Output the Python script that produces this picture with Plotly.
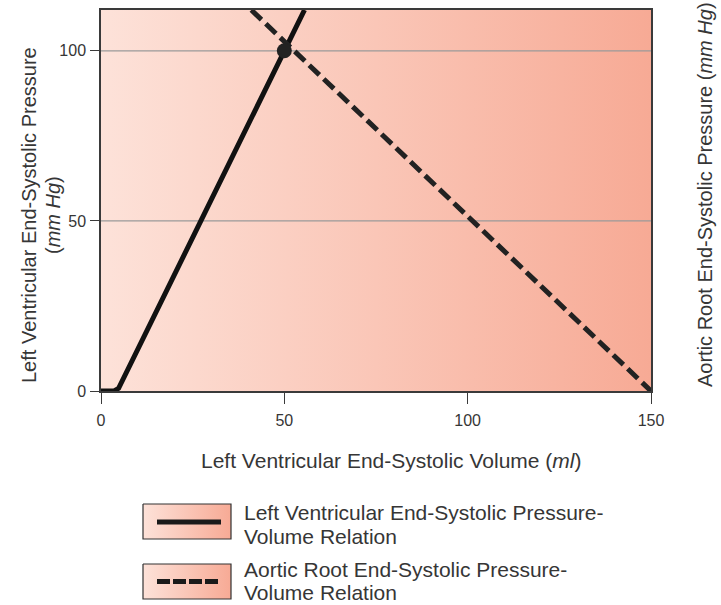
import plotly.graph_objects as go

# Left ventricular end-systolic pressure-volume relation (solid line)
lv_volume = [0, 3.6, 4.8, 55.5]
lv_pressure = [0, 0, 0.8, 112]

# Aortic root end-systolic pressure-volume relation (dashed line)
ao_volume = [41, 150]
ao_pressure = [112, 0]

# Operating point where the two relations intersect
eq_volume = [50]
eq_pressure = [100]

x_ticks = [0, 50, 100, 150]
x_inner_ticks = [50, 100]
y_ticks = [0, 50, 100]
grid_vals = [50, 100]
x_range = [0, 150]
y_range = [0, 112]

legend_lines = [
    ["Left Ventricular End-Systolic Pressure-", "Volume Relation"],
    ["Aortic Root End-Systolic Pressure-", "Volume Relation"],
]

W, H = 721, 605
FONT = "Liberation Sans, Arial, sans-serif"
TXT = "#363636"
AX = "#3a3a3a"
GRAD = [[0, "#fde2d9"], [1, "#f7aa95"]]

# plot area in pixels
PX0, PX1, PY0, PY1 = 101, 651, 10, 391

fig = go.Figure()

# gradient plot background
fig.add_trace(go.Scatter(
    x=[x_range[0], x_range[1], x_range[1], x_range[0], x_range[0]],
    y=[y_range[0], y_range[0], y_range[1], y_range[1], y_range[0]],
    mode="lines", fill="toself",
    fillgradient=dict(type="horizontal", colorscale=GRAD),
    line=dict(width=0), hoverinfo="skip", showlegend=False,
))

# horizontal grid lines
for g in grid_vals:
    fig.add_trace(go.Scatter(
        x=x_range, y=[g, g], mode="lines",
        line=dict(color="#9a9a9a", width=1.2),
        hoverinfo="skip", showlegend=False,
    ))

fig.add_trace(go.Scatter(
    x=lv_volume, y=lv_pressure, mode="lines",
    line=dict(color="#111111", width=5),
    showlegend=False,
))
fig.add_trace(go.Scatter(
    x=ao_volume, y=ao_pressure, mode="lines",
    line=dict(color="#222222", width=5, dash="14px,6px"),
    showlegend=False,
))
fig.add_trace(go.Scatter(
    x=eq_volume, y=eq_pressure, mode="markers",
    marker=dict(color="#222222", size=15, line=dict(width=0)),
    showlegend=False,
))

# legend swatches drawn on a full-page pixel axis pair
boxes = [(143, 231, 504, 539), (143, 231, 564, 599)]
swatch_y = [522, 581.5]
swatch_dash = ["solid", "13px,3px"]
# (pixel y, vertical anchor) for each text row
label_rows = [((512, "middle"), (536, "middle")),
              ((569, "middle"), (605, "bottom"))]
for (bx0, bx1, by0, by1), sy, dsh, rows, lines in zip(
        boxes, swatch_y, swatch_dash, label_rows, legend_lines):
    fig.add_trace(go.Scatter(
        x=[bx0, bx1, bx1, bx0, bx0], y=[by0, by0, by1, by1, by0],
        mode="lines", fill="toself",
        fillgradient=dict(type="horizontal", colorscale=GRAD),
        line=dict(color="#333333", width=1.2),
        xaxis="x3", yaxis="y3", hoverinfo="skip", showlegend=False,
    ))
    fig.add_trace(go.Scatter(
        x=[bx0 + 14, bx1 - 10], y=[sy, sy], mode="lines",
        line=dict(color="#1a1a1a", width=5, dash=dsh),
        xaxis="x3", yaxis="y3", hoverinfo="skip", showlegend=False,
    ))
    for (ry, anchor), txt in zip(rows, lines):
        fig.add_annotation(
            x=243 / W, y=1 - ry / H, xref="paper", yref="paper",
            text=txt, showarrow=False, xanchor="left", yanchor=anchor,
            borderpad=0, font=dict(family=FONT, size=21, color=TXT),
        )

xdom = [PX0 / W, PX1 / W]
ydom = [1 - PY1 / H, 1 - PY0 / H]
tickfont = dict(family=FONT, size=16, color=TXT)

fig.update_layout(
    width=W, height=H,
    margin=dict(l=0, r=0, t=0, b=0, autoexpand=False),
    paper_bgcolor="white", plot_bgcolor="rgba(0,0,0,0)",
    showlegend=False,
    xaxis=dict(
        domain=xdom, range=x_range, tickvals=x_ticks, ticks="outside", ticklen=11,
        tickwidth=1.3, tickcolor=AX, showline=True, linecolor=AX, linewidth=1.5,
        mirror=True, showgrid=False, zeroline=False, tickfont=tickfont, anchor="y",
        ticklabelstandoff=3, automargin=False,
    ),
    xaxis2=dict(
        overlaying="x", range=x_range, tickvals=x_inner_ticks, ticks="inside", ticklen=13,
        tickwidth=1.3, tickcolor=AX, showticklabels=False, showline=False,
        showgrid=False, zeroline=False, anchor="y", side="bottom", automargin=False,
    ),
    yaxis=dict(
        domain=ydom, range=y_range, tickvals=y_ticks, ticks="outside", ticklen=9,
        tickwidth=1.3, tickcolor=AX, showline=True, linecolor=AX, linewidth=1.5,
        mirror=True, showgrid=False, zeroline=False, tickfont=tickfont, anchor="x",
        ticklabelstandoff=1, automargin=False,
    ),
    yaxis2=dict(
        overlaying="y", side="right", range=y_range, tickvals=y_ticks, ticks="outside",
        ticklen=9, tickwidth=1.3, tickcolor=AX, showline=False, showgrid=False,
        zeroline=False, tickfont=tickfont, anchor="x", ticklabelstandoff=1,
        automargin=False,
    ),
    xaxis3=dict(domain=[0, 1], range=[0, W], visible=False, fixedrange=True,
                automargin=False),
    yaxis3=dict(domain=[0, 1], range=[H, 0], visible=False, fixedrange=True,
                anchor="x3", automargin=False),
)

# axis titles
fig.add_annotation(
    x=391 / W, y=1 - 460 / H, xref="paper", yref="paper", showarrow=False,
    text="Left Ventricular End-Systolic Volume (<i>ml</i>)",
    xanchor="center", yanchor="middle",
    font=dict(family=FONT, size=21, color=TXT),
)
for cx, txt in [(29, "Left Ventricular End-Systolic Pressure"),
                (53, "(<i>mm Hg</i>)")]:
    fig.add_annotation(
        x=cx / W, y=1 - 215 / H, xref="paper", yref="paper", showarrow=False,
        text=txt, textangle=-90, xanchor="center", yanchor="middle",
        font=dict(family=FONT, size=20, color=TXT),
    )
fig.add_annotation(
    x=705 / W, y=1 - 195 / H, xref="paper", yref="paper", showarrow=False,
    text="Aortic Root End-Systolic Pressure (<i>mm Hg</i>)",
    textangle=-90, xanchor="center", yanchor="middle",
    font=dict(family=FONT, size=20, color=TXT),
)

fig.write_html("out.html")
